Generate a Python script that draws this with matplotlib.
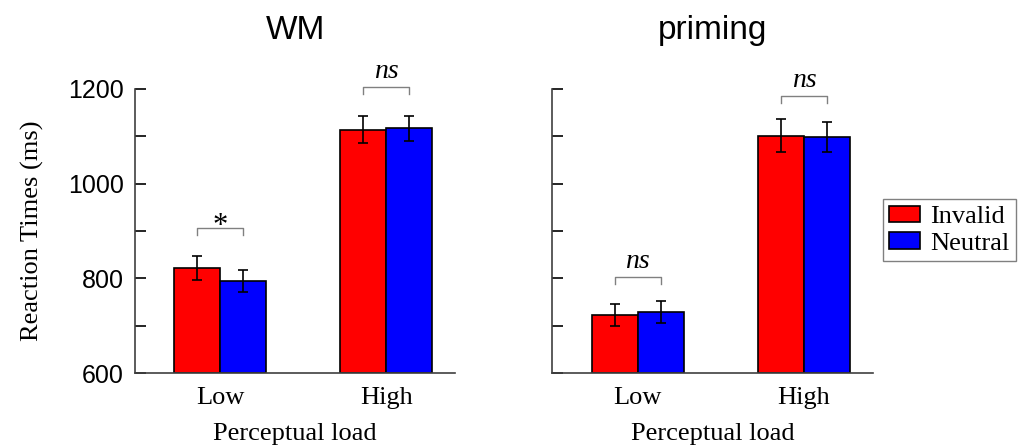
import matplotlib
matplotlib.use("Agg")
import matplotlib.pyplot as plt
import numpy as np

# values
loads = ["Low", "High"]
conditions = ["Invalid", "Neutral"]
colors = ["#ff0000", "#0000ff"]

wm_means = {"Invalid": [822, 1114], "Neutral": [795, 1117]}
wm_err = {"Invalid": [26, 29], "Neutral": [23, 26]}
priming_means = {"Invalid": [723, 1101], "Neutral": [729, 1099]}
priming_err = {"Invalid": [23, 35], "Neutral": [24, 32]}

wm_sig = ["*", "ns"]
priming_sig = ["ns", "ns"]
wm_bracket_y = [906, 1205]
priming_bracket_y = [803, 1185]

serif = "Liberation Serif"
sans = "Liberation Sans"

fig = plt.figure(figsize=(10.23, 4.47), dpi=100)
ax1 = fig.add_axes([0.132, 0.165, 0.313, 0.636])
ax2 = fig.add_axes([0.540, 0.165, 0.313, 0.636])

width = 0.277
x = np.arange(len(loads))


def draw_panel(ax, means, errs, sig, bracket_y, title, ylabels):
    bars = []
    for i, cond in enumerate(conditions):
        offs = (i - 0.5) * width
        b = ax.bar(x + offs, np.array(means[cond]) - 600, width, bottom=600,
                   color=colors[i], edgecolor="black", linewidth=1.2,
                   label=cond, zorder=2)
        ax.errorbar(x + offs, means[cond], yerr=errs[cond], fmt="none",
                    ecolor="black", elinewidth=1.2, capsize=3.5, capthick=1.2,
                    zorder=3)
        bars.append(b)

    # significance brackets
    for j in range(len(loads)):
        y = bracket_y[j]
        xl, xr = x[j] - width / 2, x[j] + width / 2
        ax.plot([xl, xl, xr, xr], [y - 15, y, y, y - 15], color="#808080",
                lw=1.0, clip_on=False, zorder=4)
        if sig[j] == "*":
            ax.text(x[j], y - 12, "*", ha="center", va="baseline",
                    fontsize=22, family=serif, clip_on=False)
        else:
            ax.text(x[j], y + 19, sig[j], ha="center", va="baseline",
                    fontsize=20, family=serif, style="italic", clip_on=False)

    ax.set_xlim(-0.514, 1.414)
    ax.set_ylim(600, 1200)
    ax.set_xticks(x)
    ax.set_xticklabels(loads, family=serif, fontsize=19)
    ax.set_xlabel("Perceptual load", family=serif, fontsize=19, labelpad=10)
    ax.set_yticks([600, 800, 1000, 1200])
    ax.set_yticks([700, 900, 1100], minor=True)
    ax.tick_params(axis="y", which="both", direction="in", length=8,
                   width=1.2, labelsize=18, pad=8)
    ax.tick_params(axis="x", length=0, pad=10)
    if ylabels:
        for lab in ax.get_yticklabels():
            lab.set_family(sans)
    else:
        ax.set_yticklabels([])
    for s in ["top", "right"]:
        ax.spines[s].set_visible(False)
    ax.spines["left"].set_linewidth(1.2)
    ax.spines["bottom"].set_linewidth(1.2)
    ax.spines["bottom"].set_color("#404040")
    ax.spines["left"].set_color("#404040")
    ax.set_title(title, family=sans, fontsize=24, pad=36)
    return bars


draw_panel(ax1, wm_means, wm_err, wm_sig, wm_bracket_y, "WM", True)
ax1.set_ylabel("Reaction Times (ms)", family=serif, fontsize=19, labelpad=17)
bars = draw_panel(ax2, priming_means, priming_err, priming_sig,
                  priming_bracket_y, "priming", False)

leg = fig.legend(handles=bars, labels=conditions, loc="upper left",
                 bbox_to_anchor=(0.863, 0.555), prop={"family": serif, "size": 19},
                 fancybox=False, edgecolor="#808080", framealpha=1,
                 handlelength=1.15, handleheight=0.6, handletextpad=0.4,
                 borderpad=0.25, labelspacing=0.15, borderaxespad=0)
leg.get_frame().set_linewidth(1.0)

fig.savefig("out.png", dpi=100)
